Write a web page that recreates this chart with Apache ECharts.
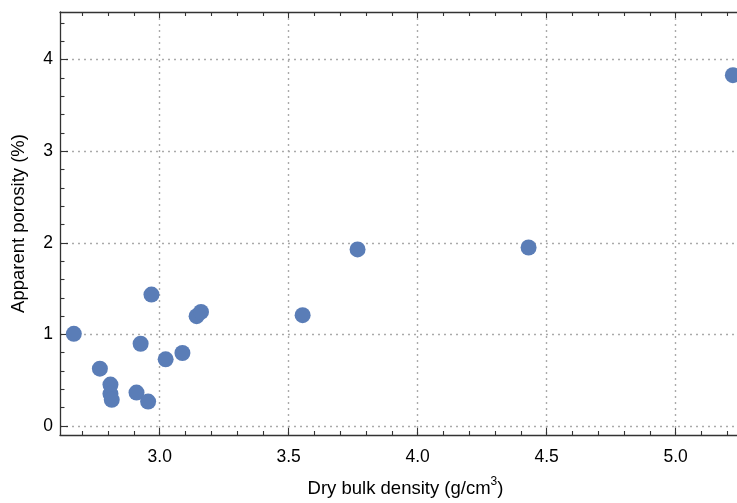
<!DOCTYPE html>
<html><head><meta charset="utf-8">
<script src="https://cdn.jsdelivr.net/npm/echarts@6/dist/echarts.min.js"></script>
<style>html,body{margin:0;padding:0;background:#fff}#c{width:737px;height:503px}</style>
</head><body><div id="c"></div>
<script>
const densityX = [2.667, 2.768, 2.809, 2.809, 2.814, 2.910, 2.955, 2.926, 2.968, 3.023, 3.088, 3.143, 3.160, 3.554, 3.767, 4.430, 5.222];
const porosityY = [1.007, 0.626, 0.452, 0.351, 0.286, 0.365, 0.267, 0.898, 1.435, 0.728, 0.797, 1.199, 1.246, 1.210, 1.928, 1.949, 3.830];
const xMajorTicks = [3.0, 3.5, 4.0, 4.5, 5.0];
const xMinorTicks = [2.7, 2.8, 2.9, 3.1, 3.2, 3.3, 3.4, 3.6, 3.7, 3.8, 3.9, 4.1, 4.2, 4.3, 4.4, 4.6, 4.7, 4.8, 4.9, 5.1, 5.2];
const yMajorTicks = [0, 1, 2, 3, 4];
const yMinorTicks = [0.2, 0.4, 0.6, 0.8, 1.2, 1.4, 1.6, 1.8, 2.2, 2.4, 2.6, 2.8, 3.2, 3.4, 3.6, 3.8, 4.2, 4.4];
const xName = '{t|Dry bulk density (g/cm}{sup|3}{t|)}';
const yName = 'Apparent porosity (%)';

const XMIN = 2.6134, XMAX = 5.238, YMIN = -0.098, YMAX = 4.52;
const axisColor = '#333';
const font = 'Liberation Sans, Arial, sans-serif';
const tickFont = 17.5, nameFont = 18.5;

function xAx(pos, values, len, labels, split, line) {
  return {
    type: 'value', position: pos, min: XMIN, max: XMAX, gridIndex: 0,
    axisLine: {show: line, onZero: false, lineStyle: {color: axisColor, width: 1.3}},
    axisTick: {show: true, inside: true, length: len, customValues: values, lineStyle: {color: axisColor, width: 1.1}},
    axisLabel: {show: labels, customValues: values, formatter: v => v.toFixed(1), color: '#000', fontSize: tickFont, fontFamily: font, margin: 13},
    splitLine: {show: split, lineStyle: {color: '#aaa', type: [2, 4], width: 1.4}}
  };
}
function yAx(pos, values, len, labels, split, line) {
  return {
    type: 'value', position: pos, min: YMIN, max: YMAX, gridIndex: 0,
    axisLine: {show: line, onZero: false, lineStyle: {color: axisColor, width: 1.3}},
    axisTick: {show: true, inside: true, length: len, customValues: values, lineStyle: {color: axisColor, width: 1.1}},
    axisLabel: {show: labels, customValues: values, formatter: v => String(Math.round(v)), color: '#000', fontSize: tickFont, fontFamily: font, margin: 7},
    splitLine: {show: split, lineStyle: {color: '#aaa', type: [2, 4], width: 1.4}}
  };
}

const xAxes = [
  Object.assign(xAx('bottom', xMajorTicks, 7, true, true, true), {
    name: xName, nameLocation: 'middle', nameGap: 41,
    nameTextStyle: {
      color: '#000', fontSize: nameFont, fontFamily: font, padding: [0, 0, 0, 14],
      rich: {
        t: {fontSize: nameFont, fontFamily: font, color: '#000', lineHeight: 22, verticalAlign: 'bottom'},
        sup: {fontSize: 12, fontFamily: font, color: '#000', lineHeight: 12, verticalAlign: 'top'}
      }
    }
  }),
  xAx('bottom', xMinorTicks, 4, false, false, false),
  xAx('top', xMajorTicks, 6, false, false, true),
  xAx('top', xMinorTicks, 4, false, false, false)
];
const yAxes = [
  Object.assign(yAx('left', yMajorTicks, 8, true, true, true), {
    name: yName, nameLocation: 'middle', nameGap: 32, nameRotate: 90,
    nameTextStyle: {color: '#000', fontSize: nameFont, fontFamily: font}
  }),
  yAx('left', yMinorTicks, 4.5, false, false, false)
];

const chart = echarts.init(document.getElementById('c'), null, {renderer: 'canvas'});
chart.setOption({
  animation: false,
  grid: {left: 60, right: 0, top: 12, bottom: 66, containLabel: false},
  xAxis: xAxes,
  yAxis: yAxes,
  series: [{
    type: 'scatter', xAxisIndex: 0, yAxisIndex: 0,
    data: densityX.map((x, i) => [x, porosityY[i]]),
    symbolSize: 16,
    itemStyle: {color: '#5a7db7', opacity: 1},
    clip: false
  }]
});
</script></body></html>
